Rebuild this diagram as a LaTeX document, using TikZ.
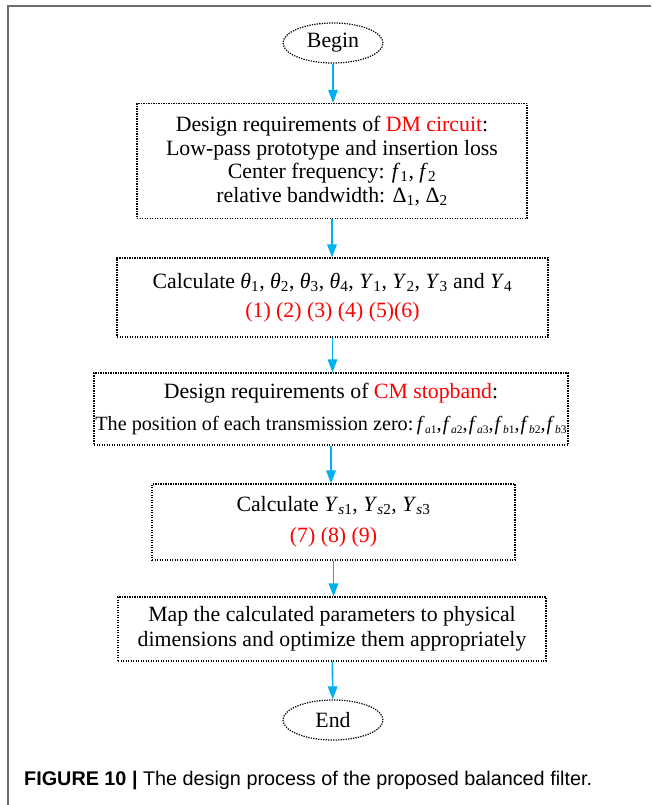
\documentclass[tikz,border=0pt]{standalone}
\usepackage{fontspec}
\setmainfont{Liberation Serif}
\newfontfamily\capfont{Liberation Sans}
\usetikzlibrary{shapes.geometric, arrows.meta, positioning}
\usepackage{xcolor}
\definecolor{FlowCyan}{HTML}{00B0F0}
\definecolor{KeyRed}{HTML}{FF0000}
\definecolor{FrameGray}{HTML}{6E6E6E}
\newcommand{\sbs}[1]{\textsubscript{#1}}
\newcommand{\va}[1]{\textit{#1}}
% small subscripted zero frequency, as in the CM box
\newcommand{\fz}[2]{\va{f}\kern0.5pt{\fontsize{11.5}{11.5}\selectfont\raisebox{-3.5pt}{\va{#1}#2}}}

\begin{document}
\begin{tikzpicture}[x=1pt, y=-1pt,
        terminal/.style={ellipse, draw=black, line width=1.2pt, dash pattern=on 1.3pt off 1.2pt, minimum width=100pt, minimum height=40pt, inner sep=0pt, font=\fontsize{21.8}{23.5}\selectfont},
        stepbox/.style={rectangle, draw=black, line width=1.2pt, dash pattern=on 1.3pt off 1.2pt, align=center, inner sep=0pt, font=\fontsize{21.8}{23.5}\selectfont},
        flow/.style={-{Triangle[length=13pt, width=9.5pt]}, line width=1.6pt, color=FlowCyan},
        caption/.style={anchor=west, inner sep=0pt, font=\capfont\fontsize{19.8}{22}\selectfont}
    ]
        \useasboundingbox (0,0) rectangle (651,805);
        % Frame
        \draw[FrameGray, line width=1.5pt] (651,6) -- (8,6) -- (8,805);

        % Begin / End
        \node[terminal] (begin) at (333,43) {Begin};
        \node[terminal] (finish) at (333,720) {End};

        % Design steps
        \node[stepbox, minimum width=390pt, minimum height=115pt] (dm) at (332,161) {Design requirements of \textcolor{KeyRed}{DM circuit}:\\
            Low-pass prototype and insertion loss\\
            Center frequency: \va{f}\sbs{1}, \va{f}\sbs{2}\\
            relative bandwidth: Δ\sbs{1}, Δ\sbs{2}};
        \node[stepbox, minimum width=431pt, minimum height=79pt] (calcy) at (332.5,297.5) {Calculate \va{θ}\sbs{1}, \va{θ}\sbs{2}, \va{θ}\sbs{3}, \va{θ}\sbs{4}, \va{Y}\sbs{1}, \va{Y}\sbs{2}, \va{Y}\sbs{3} and \va{Y}\sbs{4}\\[6pt]
            \textcolor{KeyRed}{(1) (2) (3) (4) (5)(6)}};
        \node[stepbox, minimum width=474pt, minimum height=72pt] (cm) at (331,409) {Design requirements of \textcolor{KeyRed}{CM stopband}:\\[8pt]
            {\fontsize{20.2}{23}\selectfont The position of each transmission zero:\,\fz{a}{1},\kern1pt\fz{a}{2},\kern1pt\fz{a}{3},\kern1pt\fz{b}{1},\kern1pt\fz{b}{2},\kern1pt\fz{b}{3}}};
        \node[stepbox, minimum width=363pt, minimum height=76pt] (calcys) at (333.5,522) {Calculate \va{Y}\sbs{\va{s}1}, \va{Y}\sbs{\va{s}2}, \va{Y}\sbs{\va{s}3}\\[8pt]
            \textcolor{KeyRed}{(7) (8) (9)}};
        \node[stepbox, minimum width=428pt, minimum height=64pt] (mapdim) at (332,629) {Map the calculated parameters to physical\\[2pt]
            dimensions and optimize them appropriately};

        % Connections
        \draw[flow] (begin) -- (begin |- dm.north);
        \draw[flow] (dm) -- (dm |- calcy.north);
        \draw[flow] (calcy) -- (calcy |- cm.north);
        \draw[flow] (cm) -- (cm |- calcys.north);
        \draw[flow] (calcys) -- (calcys |- mapdim.north);
        \draw[flow] (mapdim) -- (finish);

        % Caption
        \node[caption] (cap) at (24,781) {\textbf{FIGURE 10 |} The design process of the proposed balanced filter.};
\end{tikzpicture}
\end{document}
